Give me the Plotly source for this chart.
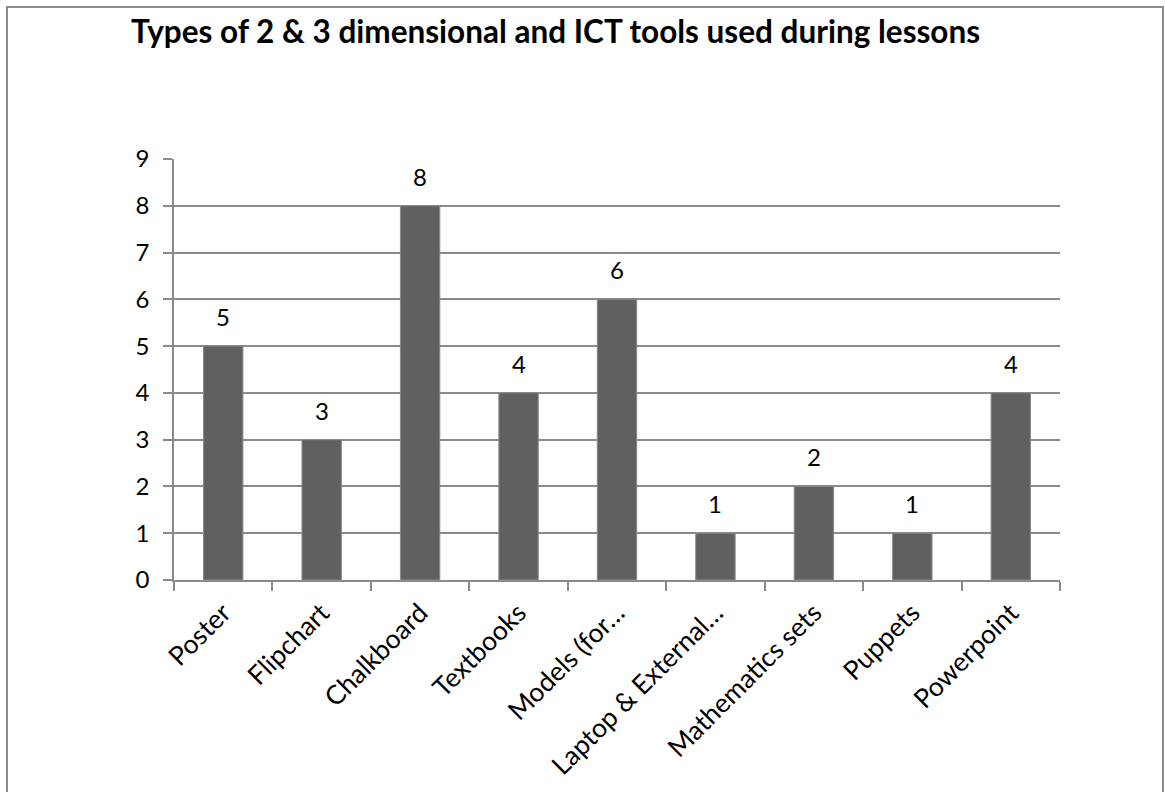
import plotly.graph_objects as go

categories = ["Poster", "Flipchart", "Chalkboard", "Textbooks", "Models (for…",
              "Laptop & External…", "Mathematics sets", "Puppets", "Powerpoint"]
values = [5, 3, 8, 4, 6, 1, 2, 1, 4]
y_ticks = [0, 1, 2, 3, 4, 5, 6, 7, 8, 9]

title_text = "Types of 2 & 3 dimensional and ICT tools used during lessons"

FONT = "Lato, Carlito, Calibri, sans-serif"
W, H = 1165, 792
L, R, T, B = 174, 1060, 159, 580

fig = go.Figure()
fig.add_trace(go.Bar(
    x=categories, y=values,
    marker=dict(color="#606060", line=dict(color="#8a8a8a", width=1)),
    width=0.4,
))

annotations = [dict(x=c, y=v, xref="x", yref="y", text=str(v), showarrow=False,
                    yanchor="bottom", xanchor="center", yshift=13,
                    font=dict(family=FONT, size=24, color="#000000"))
               for c, v in zip(categories, values)]

fig.update_layout(
    width=W, height=H,
    margin=dict(l=L, r=W - R, t=T, b=H - B, pad=0),
    paper_bgcolor="white", plot_bgcolor="white",
    showlegend=False,
    bargap=0.6,
    annotations=annotations,
    title=dict(text="<b>" + title_text + "</b>", x=131 / W, xanchor="left",
               y=1 - 32 / H, yanchor="middle",
               font=dict(family=FONT, size=31.5, color="#000000")),
    xaxis=dict(
        type="category", tickangle=-45,
        showline=True, linecolor="#8a8a8a", linewidth=1.5,
        ticks="outside", ticklen=9, tickcolor="#8a8a8a", tickwidth=1.5,
        tickson="boundaries", showgrid=False,
        ticklabelstandoff=5,
        tickfont=dict(family=FONT, size=26.5, color="#000000"),
        mirror=False,
    ),
    yaxis=dict(
        range=[0, 9], tickvals=y_ticks,
        showline=True, linecolor="#8a8a8a", linewidth=1.5,
        ticks="outside", ticklen=9, tickcolor="#8a8a8a", tickwidth=1.5,
        showgrid=True, gridcolor="#8a8a8a", gridwidth=1.5,
        zeroline=False,
        ticklabelstandoff=9,
        tickfont=dict(family=FONT, size=24, color="#000000"),
    ),
    shapes=[dict(type="rect", xref="paper", yref="paper",
                 x0=-(L - 7) / (R - L), x1=1 + (1163 - R) / (R - L),
                 y0=-(H + 5 - B) / (B - T), y1=1 + (T - 7) / (B - T),
                 line=dict(color="#8c8c8c", width=2), fillcolor="rgba(0,0,0,0)",
                 layer="below")],
)

fig.write_html("out.html")
